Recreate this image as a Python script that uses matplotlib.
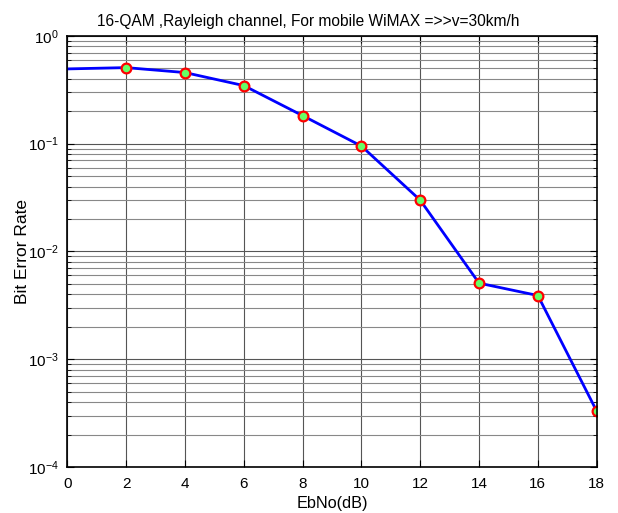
import numpy as np
import matplotlib
matplotlib.use("Agg")
import matplotlib.pyplot as plt
from matplotlib.ticker import LogLocator, NullFormatter

plt.rcParams['font.family'] = ['Liberation Sans', 'DejaVu Sans']
plt.rcParams['font.size'] = 11

# Eb/No (dB) and measured bit error rate
ebno = [0, 2, 4, 6, 8, 10, 12, 14, 16, 18]
ber = [0.494, 0.508, 0.457, 0.346, 0.182, 0.095, 0.0299, 0.00508, 0.0039, 0.00033]

fig = plt.figure(figsize=(6.18, 5.13), dpi=100)
ax = fig.add_axes([0.109, 0.0897, 0.8565, 0.8403])

ax.semilogy(ebno, ber, color='blue', lw=2, marker='o', ms=7,
            mfc='#66ff66', mec='red', mew=1.6, markevery=list(range(1, 10)))

ax.set_xlim(0, 18)
ax.set_ylim(1e-4, 1)
ax.set_xticks(range(0, 19, 2))
ax.yaxis.set_major_locator(LogLocator(base=10, numticks=10))
ax.yaxis.set_minor_locator(LogLocator(base=10, subs=np.arange(2, 10), numticks=10))
ax.yaxis.set_minor_formatter(NullFormatter())

ax.grid(True, which='major', color='#555555', lw=0.8)
ax.grid(True, which='minor', axis='y', color='#888888', lw=0.8)
ax.tick_params(which='both', direction='in', top=True, right=True)
ax.tick_params(which='major', length=5, labelsize=11)
ax.tick_params(axis='x', pad=7)
ax.tick_params(axis='y', pad=6)
ax.tick_params(which='minor', length=3)
for s in ax.spines.values():
    s.set_linewidth(1.2)

ax.set_title('16-QAM ,Rayleigh channel, For mobile WiMAX =>>v=30km/h',
             fontsize=11.2, pad=7, x=0.456)
ax.set_xlabel('EbNo(dB)', labelpad=4, fontsize=11.7)
ax.set_ylabel('Bit Error Rate', fontsize=12.5)
ax.yaxis.set_label_coords(-0.071, 0.5)

fig.savefig('out.png', dpi=100)
